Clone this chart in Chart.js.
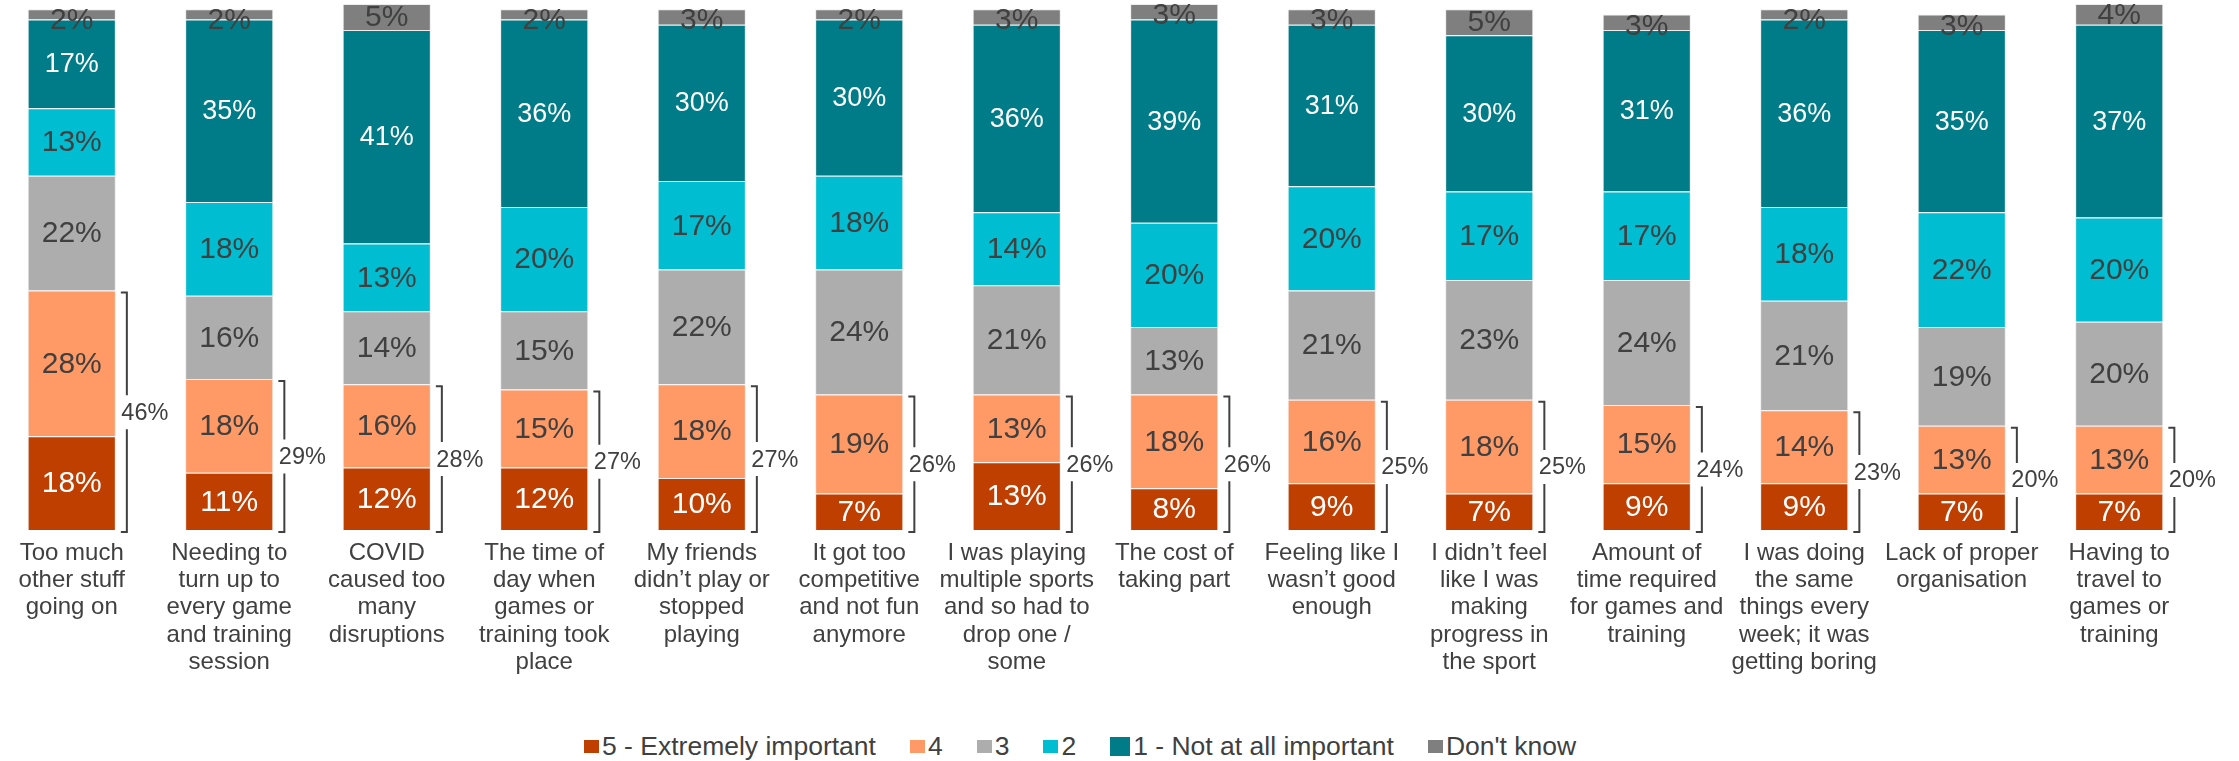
<!DOCTYPE html>
<html>
<head>
<meta charset="utf-8">
<script src="https://cdn.jsdelivr.net/npm/chart.js@4.4.1/dist/chart.umd.min.js"></script>
<style>
  html, body { margin: 0; padding: 0; background: #fff; }
  #wrap { position: relative; width: 2239px; height: 761px; overflow: hidden; }
  #chart { position: absolute; left: -8px; top: 0; }
  #legend {
    position: absolute; left: 584px; top: 730px; height: 32px;
    display: flex; align-items: center;
    font-family: 'Liberation Sans', Arial, sans-serif; font-size: 26.5px; color: #404040;
  }
  #legend .item { display: flex; align-items: center; margin-right: 34px; white-space: nowrap; }
  #legend .box { width: 15px; height: 13px; margin-right: 3px; }
  #legend .box.big { width: 20px; height: 19px; }
</style>
</head>
<body>
<div id="wrap">
  <canvas id="chart" width="2228" height="700"></canvas>
  <div id="legend"></div>
</div>
<script>
// Reasons for stopping, share rating each one 5 (extremely important) down to 1
const categories = [
    ['Too much', 'other stuff', 'going on'],
    ['Needing to', 'turn up to', 'every game', 'and training', 'session'],
    ['COVID', 'caused too', 'many', 'disruptions'],
    ['The time of', 'day when', 'games or', 'training took', 'place'],
    ['My friends', 'didn\u2019t play or', 'stopped', 'playing'],
    ['It got too', 'competitive', 'and not fun', 'anymore'],
    ['I was playing', 'multiple sports', 'and so had to', 'drop one /', 'some'],
    ['The cost of', 'taking part'],
    ['Feeling like I', 'wasn\u2019t good', 'enough'],
    ['I didn\u2019t feel', 'like I was', 'making', 'progress in', 'the sport'],
    ['Amount of', 'time required', 'for games and', 'training'],
    ['I was doing', 'the same', 'things every', 'week; it was', 'getting boring'],
    ['Lack of proper', 'organisation'],
    ['Having to', 'travel to', 'games or', 'training']
];

const extremely = [18, 11, 12, 12, 10, 7, 13, 8, 9, 7, 9, 9, 7, 7];
const four      = [28, 18, 16, 15, 18, 19, 13, 18, 16, 18, 15, 14, 13, 13];
const three     = [22, 16, 14, 15, 22, 24, 21, 13, 21, 23, 24, 21, 19, 20];
const two       = [13, 18, 13, 20, 17, 18, 14, 20, 20, 17, 17, 18, 22, 20];
const notAtAll  = [17, 35, 41, 36, 30, 30, 36, 39, 31, 30, 31, 36, 35, 37];
const dontKnow  = [2, 2, 5, 2, 3, 2, 3, 3, 3, 5, 3, 2, 3, 4];

// net of 5 + 4, shown next to the bracket
const topTwo = [46, 29, 28, 27, 27, 26, 26, 26, 25, 25, 24, 23, 20, 20];

const seriesNames = ['5 - Extremely important', '4', '3', '2', '1 - Not at all important', "Don't know"];

const FONT = "'Liberation Sans', Arial, sans-serif";
const TEXT = '#404040';

function makeSet(label, data, color, labelColor, labelSize) {
    return {
        label: label,
        data: data,
        backgroundColor: color,
        borderColor: 'rgba(235,235,235,0.9)',
        borderWidth: 1,
        barPercentage: 0.56,
        categoryPercentage: 1.0,
        labelColor: labelColor,
        labelSize: labelSize
    };
}

const datasets = [
    makeSet(seriesNames[0], extremely, '#BF3F00', '#ffffff', 30),
    makeSet(seriesNames[1], four, '#FF9966', TEXT, 30),
    makeSet(seriesNames[2], three, '#ADADAD', TEXT, 30),
    makeSet(seriesNames[3], two, '#00BDD1', TEXT, 30),
    makeSet(seriesNames[4], notAtAll, '#007C88', '#ffffff', 27),
    makeSet(seriesNames[5], dontKnow, '#7F7F7F', TEXT, 30)
];

// value labels inside each segment + bracket with the top-two total
const segmentLabels = {
    id: 'segmentLabels',
    afterDatasetsDraw(chart) {
        const ctx = chart.ctx;
        ctx.save();
        ctx.textAlign = 'center';
        ctx.textBaseline = 'middle';
        chart.data.datasets.forEach((ds, i) => {
            const meta = chart.getDatasetMeta(i);
            ctx.font = ds.labelSize + 'px ' + FONT;
            ctx.fillStyle = ds.labelColor;
            meta.data.forEach((bar, j) => {
                let y = (bar.y + bar.base) / 2 + 1;
                if (i === datasets.length - 1) y = Math.max(y, bar.y + 12);
                ctx.fillText(ds.data[j] + '%', bar.x, y);
            });
        });

        const m5 = chart.getDatasetMeta(0);
        const m4 = chart.getDatasetMeta(1);
        ctx.strokeStyle = TEXT;
        ctx.lineWidth = 2;
        ctx.fillStyle = TEXT;
        ctx.font = '23.5px ' + FONT;
        ctx.textAlign = 'left';
        m5.data.forEach((bar, j) => {
            const right = bar.x + bar.width / 2;
            const lx = right + 11;
            const tx = right + 5;
            const yBot = bar.base + 2;
            const yTop = m4.data[j].y + 2;
            const mid = (yTop + yBot) / 2;
            ctx.beginPath();
            ctx.moveTo(tx, yTop);
            ctx.lineTo(lx, yTop);
            ctx.lineTo(lx, mid - 17);
            ctx.moveTo(lx, mid + 17);
            ctx.lineTo(lx, yBot);
            ctx.lineTo(tx, yBot);
            ctx.stroke();
            ctx.fillText(topTwo[j] + '%', right + 5.5, mid + 1);
        });
        ctx.restore();
    }
};

const chart = new Chart(document.getElementById('chart'), {
    type: 'bar',
    data: { labels: categories, datasets: datasets },
    options: {
        responsive: false,
        animation: false,
        layout: { padding: { left: 1, right: 22, top: 4, bottom: 0 } },
        plugins: {
            legend: { display: false },
            tooltip: { enabled: false }
        },
        scales: {
            x: {
                stacked: true,
                grid: { display: false, drawTicks: false },
                border: { display: false },
                ticks: {
                    color: TEXT,
                    font: { family: FONT, size: 24, lineHeight: 1.13 },
                    padding: 10,
                    maxRotation: 0,
                    autoSkip: false
                },
                afterFit(scale) { scale.height = 170; }
            },
            y: {
                stacked: true,
                display: false,
                min: 0,
                max: 101
            }
        }
    },
    plugins: [segmentLabels]
});

// legend row under the chart
const legend = document.getElementById('legend');
chart.data.datasets.forEach((ds, i) => {
    const item = document.createElement('div');
    item.className = 'item';
    const box = document.createElement('span');
    box.className = i === 4 ? 'box big' : 'box';
    box.style.background = ds.backgroundColor;
    const txt = document.createElement('span');
    txt.textContent = ds.label;
    item.appendChild(box);
    item.appendChild(txt);
    legend.appendChild(item);
});
</script>
</body>
</html>
